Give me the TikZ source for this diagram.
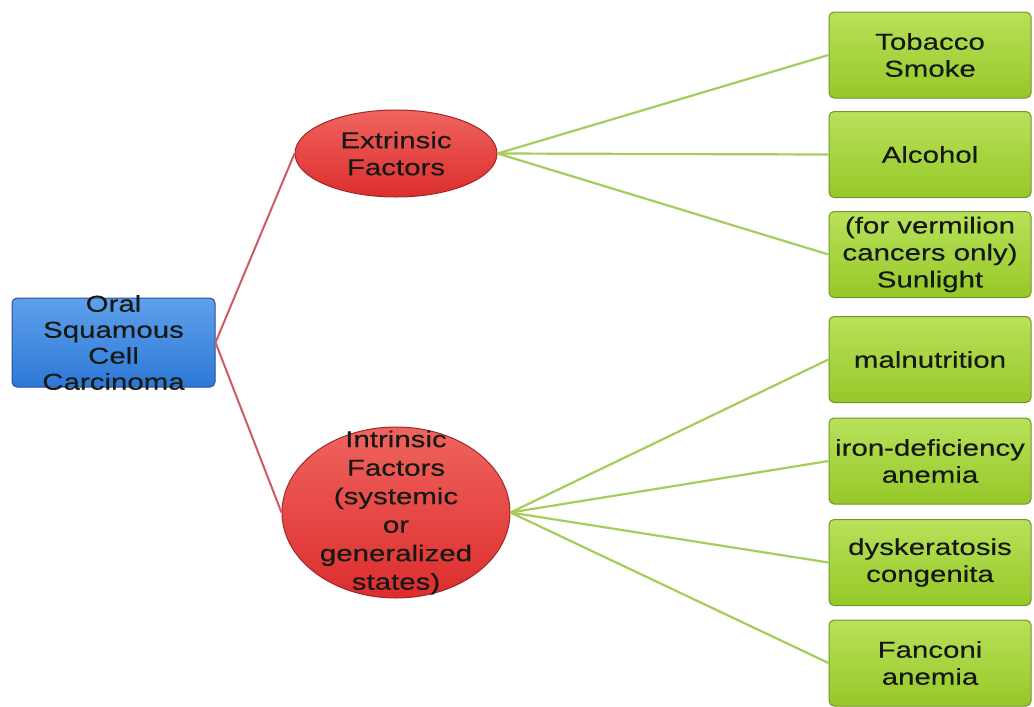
\documentclass[tikz,border=0pt]{standalone}
\usepackage{fontspec}
\setmainfont{Liberation Sans}[FakeStretch=1.28,FakeBold=0.3]
\usetikzlibrary{shapes.geometric}
\definecolor{gfill}{RGB}{150,200,40}
\definecolor{gtop}{RGB}{185,225,90}
\definecolor{gdraw}{RGB}{110,150,40}
\definecolor{rfill}{RGB}{220,45,45}
\definecolor{rtop}{RGB}{240,100,95}
\definecolor{rdraw}{RGB}{160,40,40}
\definecolor{bfill}{RGB}{45,120,215}
\definecolor{btop}{RGB}{95,160,235}
\definecolor{bdraw}{RGB}{40,80,150}
\definecolor{rline}{RGB}{205,90,100}
\definecolor{gline}{RGB}{165,205,90}
\definecolor{txtc}{RGB}{20,25,20}
\tikzset{
  txt/.style={align=center, font=\fontsize{23}{27}\selectfont, text=txtc, inner sep=0pt},
  gbox/.style={txt, draw=gdraw, line width=1pt, top color=gtop, bottom color=gfill, rounded corners=5pt, minimum width=202pt, minimum height=86pt},
  bbox/.style={draw=bdraw, line width=1pt, top color=btop, bottom color=bfill, rounded corners=5pt, minimum width=203pt, minimum height=89pt, inner sep=0pt},
  ell/.style={ellipse, draw=rdraw, line width=1pt, top color=rtop, bottom color=rfill, inner sep=0pt},
  redline/.style={draw=rline, line width=2pt},
  grnline/.style={draw=gline, line width=2.2pt}
}
\begin{document}
\begin{tikzpicture}[x=1pt,y=-1pt]
\useasboundingbox (0,0) rectangle (1034,707);
% root
\node[bbox] (root) at (113.5,342.5) {};
\node[txt, font=\fontsize{23}{26}\selectfont] (rootT) at (root) {Oral\\Squamous\\Cell\\Carcinoma};
% ellipses
\node[ell, minimum width=202pt, minimum height=87pt] (ext) at (396,153.5) {};
\node[txt] (extT) at (ext) {Extrinsic\\Factors};
\node[ell, minimum width=228pt, minimum height=171pt] (intr) at (396,512.5) {};
\node[txt, font=\fontsize{23}{28.5}\selectfont] (intrT) at (intr) {Intrinsic\\Factors\\(systemic\\or\\generalized\\states)};
% leaves
\node[gbox] (t1) at (930,55) {Tobacco\\Smoke};
\node[gbox] (t2) at (930,154.5) {Alcohol};
\node[gbox] (t3) at (930,254.5) {(for vermilion\\cancers only)\\Sunlight};
\node[gbox] (t4) at (930,359.5) {malnutrition};
\node[gbox] (t5) at (930,461) {iron-deficiency\\anemia};
\node[gbox] (t6) at (930,562.5) {dyskeratosis\\congenita};
\node[gbox] (t7) at (930,663) {Fanconi\\anemia};
% connectors
\draw[redline] (root.east) -- (ext.west);
\draw[redline] (root.east) -- (intr.west);
\foreach \n in {t1,t2,t3} \draw[grnline] (ext.east) -- (\n.west);
\foreach \n in {t4,t5,t6,t7} \draw[grnline] (intr.east) -- (\n.west);
\end{tikzpicture}
\end{document}
